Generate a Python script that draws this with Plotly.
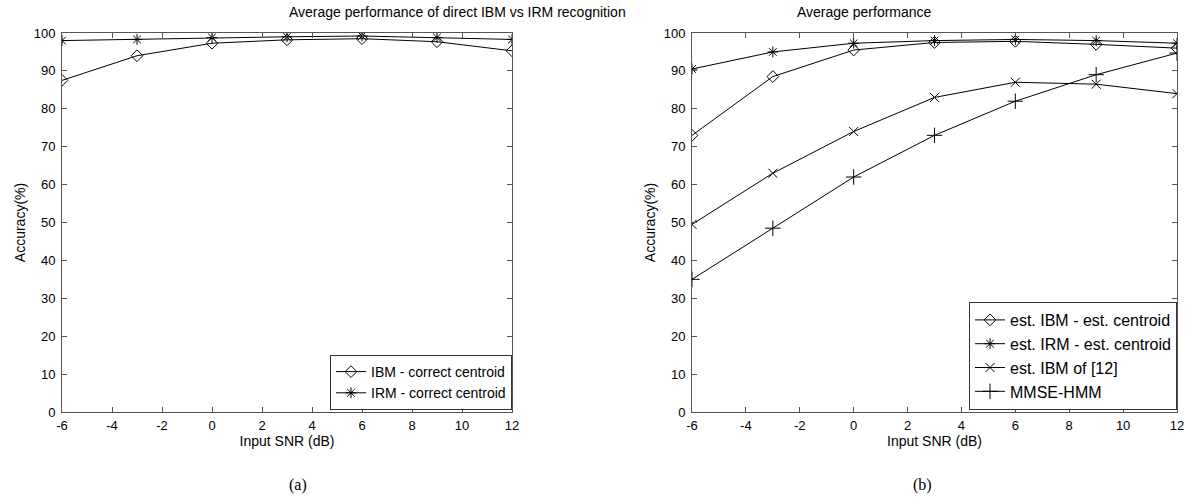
import plotly.graph_objects as go

snr = [-6, -3, 0, 3, 6, 9, 12]

# (a)
ibm_correct = [87.5, 94.0, 97.3, 98.2, 98.5, 97.7, 95.3]
irm_correct = [98.0, 98.3, 98.8, 99.0, 99.2, 98.8, 98.3]

# (b)
ibm_est = [73.0, 88.5, 95.5, 97.5, 97.8, 97.0, 96.0]
irm_est = [90.5, 95.0, 97.3, 98.0, 98.3, 98.0, 97.3]
ibm_ref12 = [49.5, 63.0, 74.0, 83.0, 87.0, 86.5, 84.0]
mmse_hmm = [35.0, 48.5, 62.0, 73.0, 82.0, 89.0, 94.7]

x_ticks = [-6, -4, -2, 0, 2, 4, 6, 8, 10, 12]
x_labels = ["-6", "-4", "-2", "0", "2", "4", "6", "8", "10", "12"]
y_ticks = list(range(0, 101, 10))

W, H = 1189, 498
FONT = "Liberation Sans, Arial, sans-serif"

fig = go.Figure()

def add(x, y, name, symbol, xa, ya, legend, size=9):
    fig.add_trace(go.Scatter(
        x=x, y=y, name=name, mode="lines+markers",
        line=dict(color="black", width=1),
        marker=dict(symbol=symbol, size=size, color="black",
                    line=dict(color="black", width=1)),
        xaxis=xa, yaxis=ya, legend=legend))

add(snr, ibm_correct, "IBM - correct centroid", "diamond-open", "x", "y", "legend")
add(snr, irm_correct, "IRM - correct centroid", "asterisk-open", "x", "y", "legend")
add(snr, ibm_est, "est. IBM - est. centroid", "diamond-open", "x2", "y2", "legend2")
add(snr, irm_est, "est. IRM - est. centroid", "asterisk-open", "x2", "y2", "legend2")
add(snr, ibm_ref12, "est. IBM of [12]", "x-thin-open", "x2", "y2", "legend2")
add(snr, mmse_hmm, "MMSE-HMM", "cross-thin-open", "x2", "y2", "legend2", size=11)

ax_common = dict(showline=True, linecolor="#555", linewidth=1, mirror="ticks",
                 ticks="inside", ticklen=5, tickcolor="#555", showgrid=False,
                 zeroline=False, automargin=False,
                 tickfont=dict(size=13, color="black", family=FONT))

def px_x(p):
    return p / W

def px_y(p):
    return 1 - p / H

xdom1 = [px_x(62), px_x(512)]
xdom2 = [px_x(692), px_x(1177)]
ydom = [px_y(412), px_y(33)]

xtitle = dict(text="Input SNR (dB)", standoff=0, font=dict(size=14))
ytitle = dict(text="Accuracy(%)", standoff=4, font=dict(size=14))
xax = dict(range=[-6, 12], tickvals=x_ticks, ticktext=x_labels, ticklabelstandoff=1,
           title=xtitle, **ax_common)
yax = dict(range=[0, 100], tickvals=y_ticks, ticklabelstandoff=3, title=ytitle, **ax_common)

fig.update_layout(
    width=W, height=H,
    margin=dict(l=0, r=0, t=0, b=0, autoexpand=False),
    paper_bgcolor="white", plot_bgcolor="white",
    font=dict(family=FONT, size=13, color="black"),
    xaxis=dict(domain=xdom1, anchor="y", **xax),
    yaxis=dict(domain=ydom, anchor="x", **yax),
    xaxis2=dict(domain=xdom2, anchor="y2", **xax),
    yaxis2=dict(domain=ydom, anchor="x2", **yax),
    legend=dict(x=px_x(512), xanchor="right", y=px_y(410), yanchor="bottom",
                bordercolor="#333", borderwidth=1, bgcolor="white",
                font=dict(size=14), tracegroupgap=0, itemwidth=30),
    legend2=dict(x=px_x(1177), xanchor="right", y=px_y(410), yanchor="bottom",
                 bordercolor="#333", borderwidth=1, bgcolor="white",
                 font=dict(size=16), tracegroupgap=0, itemwidth=30),
    annotations=[
        dict(text="Average performance of direct IBM vs IRM recognition", x=sum(xdom1) / 2,
             y=px_y(12), yanchor="middle", xref="paper", yref="paper", showarrow=False,
             font=dict(size=14)),
        dict(text="Average performance", x=sum(xdom2) / 2, y=px_y(12), yanchor="middle",
             xref="paper", yref="paper", showarrow=False, font=dict(size=14)),
        dict(text="(a)", x=sum(xdom1) / 2, y=px_y(485), yanchor="middle", xref="paper",
             yref="paper", showarrow=False,
             font=dict(size=16, family="Liberation Serif, Times New Roman, serif")),
        dict(text="(b)", x=sum(xdom2) / 2, y=px_y(485), yanchor="middle", xref="paper",
             yref="paper", showarrow=False,
             font=dict(size=16, family="Liberation Serif, Times New Roman, serif")),
    ],
)

fig.write_html("out.html", config={"displayModeBar": False},
               post_script="document.body.style.margin='0';document.body.style.overflow='hidden';")
